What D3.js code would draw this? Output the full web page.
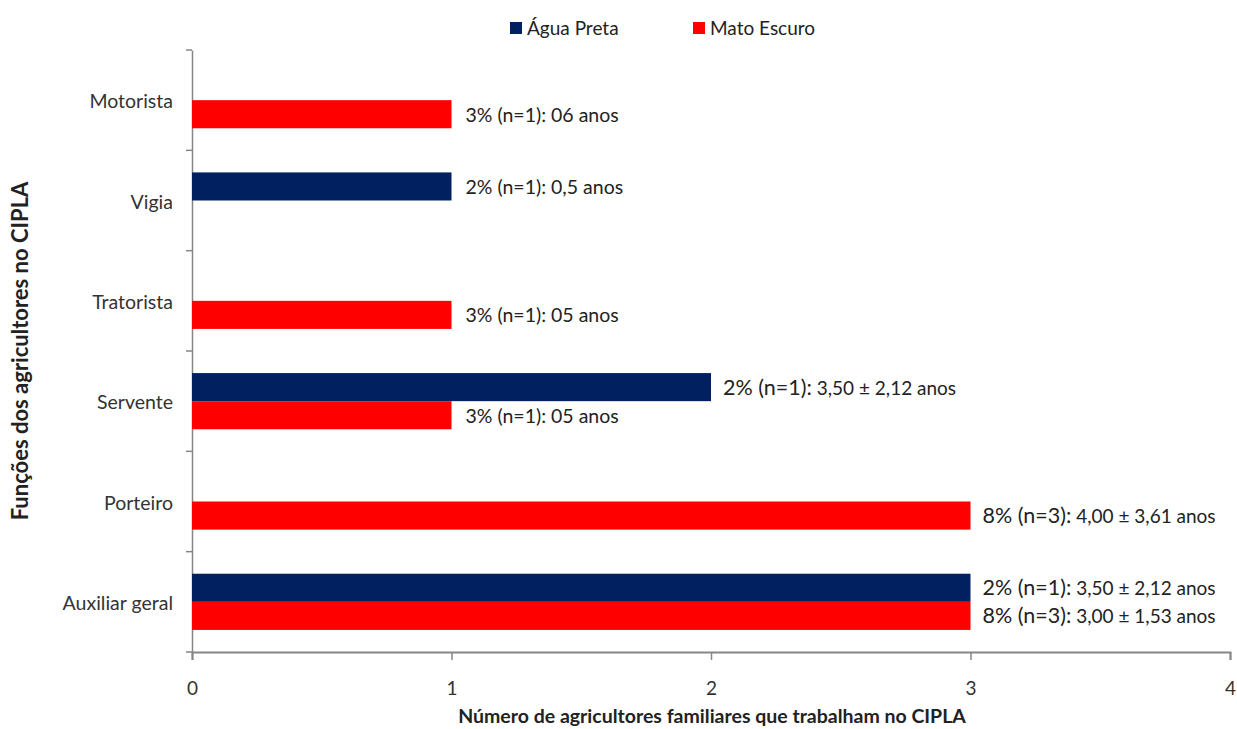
<!DOCTYPE html>
<html><head><meta charset="utf-8">
<script src="https://cdn.jsdelivr.net/npm/d3@7"></script>
<style>
body{margin:0;background:#fff;}
svg{display:block;font-family:"Lato",sans-serif;}
</style></head><body>
<svg id="c" width="1237" height="729"></svg>
<script>
const categories = ["Motorista","Vigia","Tratorista","Servente","Porteiro","Auxiliar geral"];
const seriesNames = ["Água Preta","Mato Escuro"];
const aguaPreta = [null, 1, null, 2, null, 3];
const matoEscuro = [1, null, 1, 1, 3, 3];
const labelsAP = [null, ["2% (n=1): 0,5 anos",""], null, ["2% (n=1):"," 3,50 ± 2,12 anos"], null, ["2% (n=1):"," 3,50 ± 2,12 anos"]];
const labelsME = [["3% (n=1): 06 anos",""], null, ["3% (n=1): 05 anos",""], ["3% (n=1): 05 anos",""], ["8% (n=3):"," 4,00 ± 3,61 anos"], ["8% (n=3):"," 3,00 ± 1,53 anos"]];
const xTicks = [0,1,2,3,4];
const colors = ["#002060","#FF0000"];

const svg = d3.select("#c");
const L = 192, R = 1230, T = 50, B = 652;
const x = d3.scaleLinear().domain([0,4]).range([L,R]);
const y = d3.scaleBand().domain(categories).range([T,B]);
const inner = d3.scaleBand().domain(seriesNames).range([y.bandwidth()*0.22, y.bandwidth()*0.78]);

const axisColor = "#868686";
// y axis
const ya = svg.append("g").attr("transform",`translate(${L},0)`)
  .call(d3.axisLeft(y).tickSize(0).tickPadding(19));
ya.attr("font-family",null).attr("font-size",null);
ya.select(".domain").attr("stroke",axisColor).attr("stroke-width",1.5);
ya.selectAll("text").attr("font-size",19.5).attr("fill","#333").attr("y",2);
// category boundary ticks
const bounds = categories.map(c=>y(c)).concat([B]);
svg.append("g").selectAll("line").data(bounds).join("line")
  .attr("x1",L-6).attr("x2",L).attr("y1",d=>d).attr("y2",d=>d)
  .attr("stroke",axisColor).attr("stroke-width",1.5);

// x axis
const xa = svg.append("g").attr("transform",`translate(0,${B})`)
  .call(d3.axisBottom(x).tickValues(xTicks).tickSize(8).tickPadding(22).tickFormat(d3.format("d")));
xa.attr("font-family",null).attr("font-size",null);
xa.select(".domain").attr("stroke",axisColor).attr("stroke-width",2);
xa.selectAll("line").attr("stroke",axisColor).attr("stroke-width",1.5);
xa.selectAll("text").attr("font-size",19).attr("fill","#333");

// bars
const series = [aguaPreta, matoEscuro];
const labels = [labelsAP, labelsME];
series.forEach((vals,si)=>{
  const g = svg.append("g");
  const data = categories.map((c,i)=>({c, v: vals[i], lab: labels[si][i]})).filter(d=>d.v!=null);
  g.selectAll("rect").data(data).join("rect")
    .attr("x",x(0)).attr("y",d=>y(d.c)+inner(seriesNames[si]))
    .attr("width",d=>x(d.v)-x(0)).attr("height",inner.bandwidth())
    .attr("fill",colors[si]);
  const t = g.selectAll("text").data(data).join("text")
    .attr("x",d=>x(d.v)+ (d.lab[1] ? 12 : 14))
    .attr("y",d=>y(d.c)+inner(seriesNames[si])+inner.bandwidth()/2 + 2)
    .attr("dy","0.35em").attr("fill","#222");
  t.append("tspan").attr("font-size",d=>d.lab[1]?21.5:19.5).text(d=>d.lab[0]);
  t.append("tspan").attr("font-size",19).text(d=>d.lab[1]);
});

// legend
const leg = svg.append("g");
const legX = [510, 693];
seriesNames.forEach((n,i)=>{
  leg.append("rect").attr("x",legX[i]).attr("y",22).attr("width",12).attr("height",12).attr("fill",colors[i]);
  leg.append("text").attr("x",legX[i]+17).attr("y",28).attr("dy","0.35em").attr("font-size",19).attr("fill","#222").text(n);
});

// axis titles
svg.append("text").attr("x",712).attr("y",716).attr("dy","0.35em").attr("text-anchor","middle")
  .attr("font-size",19.5).attr("font-weight","bold").attr("fill","#222")
  .text("Número de agricultores familiares que trabalham no CIPLA");
svg.append("text").attr("transform",`translate(20,${(T+B)/2}) rotate(-90)`).attr("dy","0.35em").attr("text-anchor","middle")
  .attr("font-size",22).attr("font-weight","bold").attr("fill","#222")
  .text("Funções dos agricultores no CIPLA");
</script>
</body></html>
